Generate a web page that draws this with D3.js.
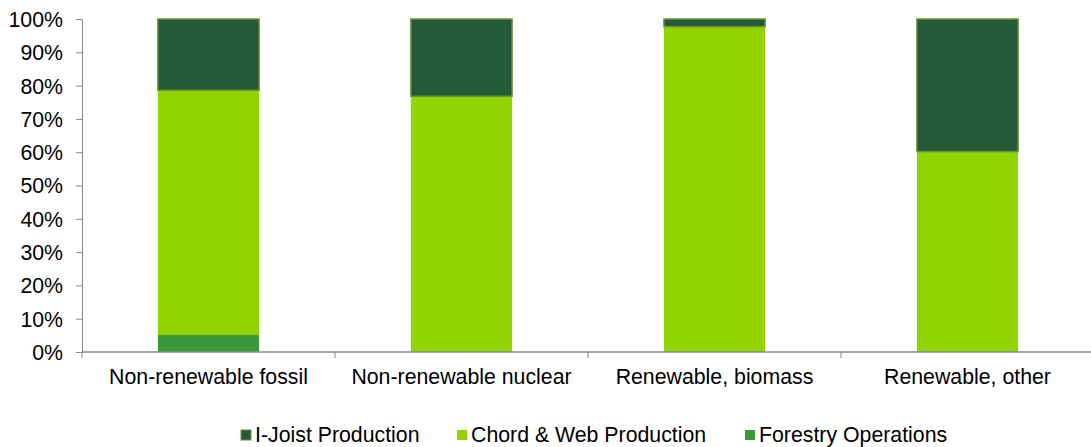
<!DOCTYPE html>
<html><head><meta charset="utf-8">
<script src="https://cdn.jsdelivr.net/npm/d3@7"></script>
<style>body{margin:0;background:#fff}svg{display:block}text{font-family:"Liberation Sans",Arial,sans-serif;fill:#000}</style>
</head><body><svg id="c" width="1091" height="447"></svg>
<script>
const categories = ["Non-renewable fossil","Non-renewable nuclear","Renewable, biomass","Renewable, other"];
const seriesNames = ["Forestry Operations","Chord & Web Production","I-Joist Production"];
const forestry = [5.1, 0, 0, 0];
const chordWeb = [73.5, 76.8, 97.7, 60.2];
const iJoist = [21.4, 23.2, 2.3, 39.8];
const yTicks = [0,10,20,30,40,50,60,70,80,90,100];
const legendOrder = ["I-Joist Production","Chord & Web Production","Forestry Operations"];

const colors = {"I-Joist Production":"#245a38","Chord & Web Production":"#92d400","Forestry Operations":"#3a9a3a"};
const strokes = {"I-Joist Production":"#6f8f3c","Chord & Web Production":"none","Forestry Operations":"none"};
const FS = 21.3;

const rows = categories.map((c,i)=>({cat:c,"Forestry Operations":forestry[i],"Chord & Web Production":chordWeb[i],"I-Joist Production":iJoist[i]}));
const stacked = d3.stack().keys(seriesNames)(rows);

const svg = d3.select("#c");
const L=82, R=1094, T=19, B=352;
const x = d3.scaleBand().domain(categories).range([L,R]).paddingInner(0.6).paddingOuter(0.3);
const y = d3.scaleLinear().domain([0,100]).range([B,T]);

svg.append("g").selectAll("g").data(stacked).join("g")
 .attr("fill",d=>colors[d.key]).attr("stroke",d=>strokes[d.key]).attr("stroke-width",1.5)
 .selectAll("rect").data(d=>d.filter(p=>p[1]-p[0]>0)).join("rect")
 .attr("x",d=>x(d.data.cat)).attr("width",x.bandwidth())
 .attr("y",d=>y(d[1])).attr("height",d=>y(d[0])-y(d[1]));

// y axis
const ya = svg.append("g").attr("transform",`translate(${L},0)`)
 .call(d3.axisLeft(y).tickValues(yTicks).tickFormat(d=>d+"%").tickSize(6).tickSizeOuter(0));
ya.select(".domain").attr("stroke","#888");
ya.selectAll(".tick line").attr("stroke","#888");
ya.selectAll(".tick text").attr("font-size",FS).attr("x",-19).attr("dy","0.35em").style("font-family","Liberation Sans, Arial, sans-serif").attr("fill","#000");

// x axis
const step = x.step();
const xa = svg.append("g").attr("transform",`translate(0,${B})`);
xa.append("line").attr("x1",L).attr("x2",1091).attr("stroke","#888").attr("stroke-width",1.3);
const bounds = d3.range(categories.length).map(i=>L+i*step);
xa.selectAll("line.tk").data(bounds).join("line").attr("class","tk")
 .attr("x1",d=>d).attr("x2",d=>d).attr("y1",0).attr("y2",6).attr("stroke","#888");
xa.selectAll("text").data(categories).join("text")
 .attr("x",d=>x(d)+x.bandwidth()/2).attr("y",32).attr("text-anchor","middle").attr("font-size",FS).text(d=>d);

// legend
const lg = svg.append("g");
const lx = [241, 457, 745];
legendOrder.forEach((k,i)=>{
 const g = lg.append("g").attr("transform",`translate(${lx[i]},435)`);
 g.append("rect").attr("x",0).attr("y",-5).attr("width",10).attr("height",10).attr("fill",colors[k])
  .attr("stroke",strokes[k]==="none"?"none":strokes[k]).attr("stroke-width",1);
 g.append("text").attr("x",14).attr("y",0).attr("dy","0.35em").attr("font-size",FS).text(k);
});
</script></body></html>
